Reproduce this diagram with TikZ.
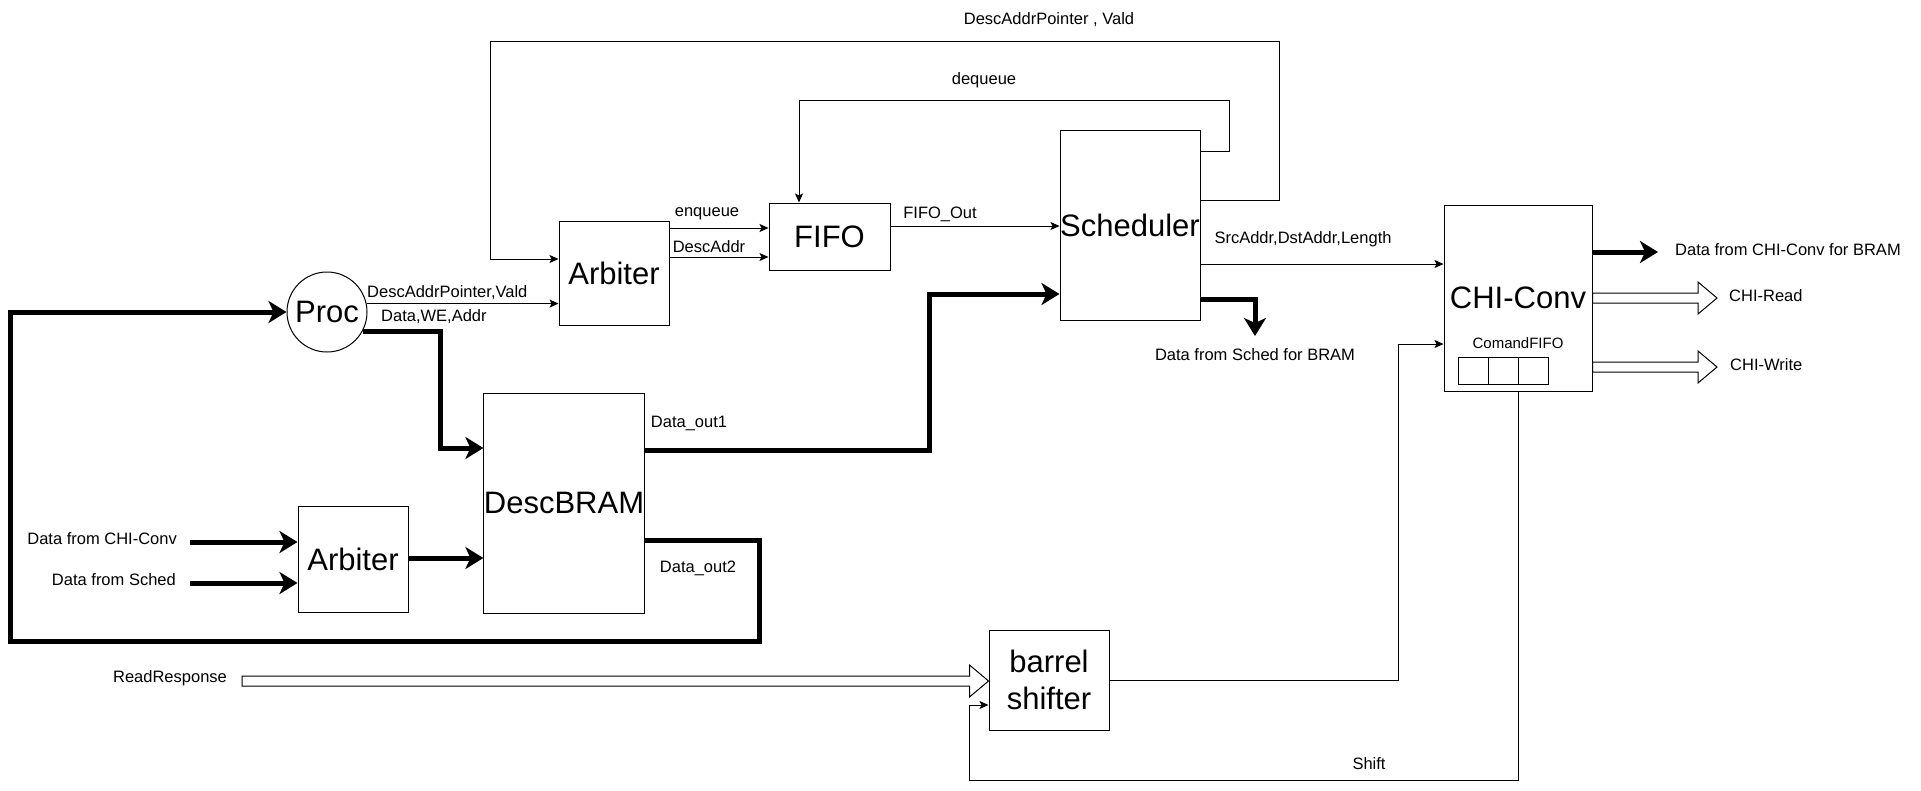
\documentclass[tikz,border=0pt]{standalone}
\usepackage{fontspec}
\setmainfont{Liberation Sans}
\usetikzlibrary{arrows.meta,calc}
\newcommand{\hollowarrow}[2]{%
  \draw[fill=white,line width=1pt] let \p1=#1, \p2=#2 in
    (\x1,\y1+5pt) -- (\x2-19pt,\y1+5pt) -- (\x2-19pt,\y1+16pt) -- (\x2,\y1)
    -- (\x2-19pt,\y1-16pt) -- (\x2-19pt,\y1-5pt) -- (\x1,\y1-5pt) -- cycle;}
\begin{document}
\begin{tikzpicture}[x=1pt,y=-1pt,
    blk/.style={draw,line width=1pt,inner sep=0pt,font=\fontsize{31}{37}\selectfont},
    lbl/.style={font=\fontsize{16.5}{20}\selectfont,inner sep=0pt},
    sig/.style={line width=1pt,-{Stealth[length=9pt,width=8pt,inset=2pt]}},
    bus/.style={line width=5pt,-{Stealth[length=18pt,width=22pt,inset=5pt]}}]
                \useasboundingbox (0,0) rectangle (1921,790);

                %Nodes
                \node[blk,circle,minimum size=80pt] at (327,312) (proc) {Proc};
                \node[blk,minimum width=110pt,minimum height=104pt] at (614,273) (arbtop) {Arbiter};
                \node[blk,minimum width=121pt,minimum height=67pt] at (829.5,236.5) (fifo) {FIFO};
                \node[blk,minimum width=140pt,minimum height=190pt] at (1130,225) (sched) {Scheduler};
                \node[blk,minimum width=148pt,minimum height=186pt] at (1518,298) (chi) {CHI-Conv};
                \node[blk,minimum width=160pt,minimum height=220pt] at (564,503) (bram) {DescBRAM};
                \node[blk,minimum width=110pt,minimum height=106pt] at (353,559) (arbbot) {Arbiter};
                \node[blk,minimum width=120pt,minimum height=100pt,align=center] at (1049,680) (barrel) {barrel\\shifter};
                \node[lbl,font=\fontsize{15}{18}\selectfont] at (1518,343) (cmdlbl) {ComandFIFO};
                \foreach \i in {0,1,2}
                    \node[draw,line width=1pt,minimum width=30pt,minimum height=27pt,inner sep=0pt] at (1473+30*\i,370.5) (cell\i) {};

                %Labels
                \node[lbl,anchor=west] at (367,293) (lpa) {DescAddrPointer,Vald};
                \node[lbl,anchor=west] at (381,317) (lwe) {Data,WE,Addr};
                \node[lbl] at (1049,20) (ltop) {DescAddrPointer , Vald};
                \node[lbl] at (984,80) (ldeq) {dequeue};
                \node[lbl] at (707,214) (lenq) {enqueue};
                \node[lbl] at (709,247) (lda) {DescAddr};
                \node[lbl] at (940,214) (lfo) {FIFO\_Out};
                \node[lbl] at (1303,239) (lsrc) {SrcAddr,DstAddr,Length};
                \node[lbl] at (1255,355) (lsb) {Data from Sched for BRAM};
                \node[lbl,anchor=west] at (1675,250) (lcb) {Data from CHI-Conv for BRAM};
                \node[lbl,anchor=west] at (1729,296) (lrd) {CHI-Read};
                \node[lbl,anchor=west] at (1730,365) (lwr) {CHI-Write};
                \node[lbl] at (1369,764) (lsh) {Shift};
                \node[lbl] at (170,678) (lrr) {ReadResponse};
                \node[lbl,anchor=east] at (177,539) (lcc) {Data from CHI-Conv};
                \node[lbl,anchor=east] at (176,580) (lsd) {Data from Sched};
                \node[lbl] at (689,423) (lo1) {Data\_out1};
                \node[lbl] at (698,568) (lo2) {Data\_out2};

                %Free ends
                \coordinate (schedout) at (1255,336);
                \coordinate (cbout) at (1658,252);
                \coordinate (rdout) at (1717,298);
                \coordinate (wrout) at (1717,367);
                \coordinate (rrin) at (242,681);
                \coordinate (ccin) at (190,542);
                \coordinate (sdin) at (190,583);

                %Lines
                \draw[sig] (proc.12) -- (proc.12 -| arbtop.west);
                \draw[sig] (sched.east |- 0,200) -- (1279,200) -- (1279,41) -- (490,41) -- (490,259) -- (arbtop.west |- 0,259);
                \draw[sig] (sched.east |- 0,151) -- (1229,151) -- (1229,100) -- (799,100) -- (799,0 |- fifo.north);
                \draw[sig] (arbtop.east |- 0,228) -- (fifo.west |- 0,228);
                \draw[sig] (arbtop.east |- 0,257) -- (fifo.west |- 0,257);
                \draw[sig] (fifo.east |- 0,226) -- (sched.west |- 0,226);
                \draw[sig] (sched.east |- 0,264) -- (chi.west |- 0,264);
                \draw[sig] (barrel.east) -- (1398,680) -- (1398,344) -- (chi.west |- 0,344);
                \draw[sig] (chi.south) -- (1518,780) -- (969,780) -- (969,705) -- (barrel.west |- 0,705);

                \draw[bus] (proc.-28) -| (440,448) -- (bram.west |- 0,448);
                \draw[bus] (bram.east |- 0,540) -- (759,540) -- (759,641) -- (10,641) -- (10,312) -- (proc.west);
                \draw[bus] (bram.east |- 0,450) -| (929,294) -- (sched.west |- 0,294);
                \draw[bus] (arbbot.east |- 0,558) -- (bram.west |- 0,558);
                \draw[bus] (ccin) -- (arbbot.west |- ccin);
                \draw[bus] (sdin) -- (arbbot.west |- sdin);
                \draw[bus] (sched.east |- 0,299) -| (schedout);
                \draw[bus] (chi.east |- cbout) -- (cbout);

                \hollowarrow{(rrin)}{(barrel.west)}
                \hollowarrow{(chi.east)}{(rdout)}
                \hollowarrow{(chi.east |- wrout)}{(wrout)}
            \end{tikzpicture}
\end{document}
